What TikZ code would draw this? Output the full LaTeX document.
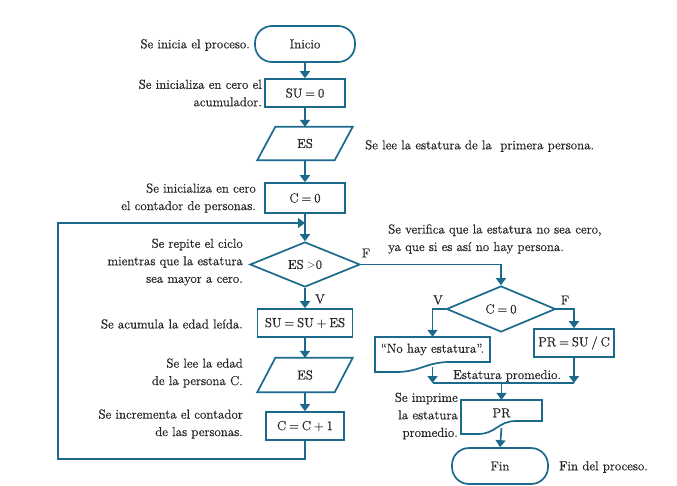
\documentclass[tikz,border=0pt]{standalone}
\usepackage{fontspec}
\setmainfont{Latin Modern Roman}[FakeBold=0.6]
\usetikzlibrary{shapes.geometric,arrows.meta}
\definecolor{fc}{HTML}{1B6A8C}
\definecolor{tc}{HTML}{262626}
\newcommand\tsp{\hspace{0.22em}}
\begin{document}
\begin{tikzpicture}[x=1pt,y=-1pt,
  every node/.style={text=tc,font=\fontsize{13}{17.5}\selectfont},
  ln/.style={draw=fc,line width=1.7pt},
  flow/.style={ln,-{Triangle[width=10pt,length=7pt]}},
  box/.style={ln,rectangle,inner sep=0pt,minimum width=#1,minimum height=28pt},
  term/.style={ln,rectangle,rounded corners=17pt,inner sep=0pt,minimum width=#1,minimum height=36pt},
  dia/.style={ln,diamond,inner sep=0pt},
  ghost/.style={inner sep=0pt,minimum width=#1,minimum height=33pt},
  noteL/.style={inner sep=0pt,align=right,anchor=east},
  noteR/.style={inner sep=0pt,align=left,anchor=west},
  lab/.style={inner sep=0pt}
]
\useasboundingbox (0,0) rectangle (677,485);

% main column
\node[term=100pt] (ini) at (305,44) {Inicio};
\node[box=80pt] (su0) at (305,93) {SU\tsp=\tsp0};
\node[ghost=77pt] (es1) at (305,143.5) {ES};
\draw[ln] ([xshift=9pt]es1.north west) -- ([xshift=9pt]es1.north east) -- ([xshift=-9pt]es1.south east) -- ([xshift=-9pt]es1.south west) -- cycle;
\node[box=80pt,minimum height=30pt] (c0) at (305,198) {C\tsp=\tsp0};
\node[dia,minimum width=110pt,minimum height=45pt] (d1) at (305,264.5) {ES\tsp$>$0};
\node[box=95pt] (suse) at (305,323) {SU\tsp=\tsp SU\tsp+\tsp ES};
\node[ghost=77pt,minimum height=34pt] (es2) at (305,375) {ES};
\draw[ln] ([xshift=9pt]es2.north west) -- ([xshift=9pt]es2.north east) -- ([xshift=-9pt]es2.south east) -- ([xshift=-9pt]es2.south west) -- cycle;
\node[box=78pt] (c1) at (305,426) {C\tsp=\tsp C\tsp+\tsp1};

% right branch
\node[dia,minimum width=109pt,minimum height=46pt] (d2) at (501,309) {C\tsp=\tsp0};
\node[ghost=115pt,minimum height=25pt] (nohay) at (432.5,349.5) {“No hay estatura”.};
\draw[ln] (375,337) -- (490,337) -- (490,362) -- (450,362) .. controls (426,362) and (420,372) .. (396,372) -- (375,372) -- cycle;
\node[box=80pt] (pr) at (574,343) {PR\tsp=\tsp SU\tsp/\tsp C};
\node[ghost=81pt,minimum height=26pt] (prd) at (501.5,413) {PR};
\draw[ln] (461,400) -- (542,400) -- (542,421) -- (516,421) .. controls (498,421) and (496,434) .. (478,434) -- (461,434) -- cycle;
\node[term=96pt] (fin) at (500,466) {Fin};

\coordinate (lb) at (58,459);
\coordinate (lt) at (58,223);
\coordinate (lin) at (305,223);
\coordinate (nohayb) at (432.5,367);
\coordinate (ml) at (432.5,383);
\coordinate (mr) at (574,383);
\coordinate (mm) at (501.5,383);
\coordinate (prdb) at (501.5,428);

% connectors
\draw[flow] (ini.south) -- (su0.north);
\draw[flow] (su0.south) -- (es1.north);
\draw[flow] (es1.south) -- (c0.north);
\draw[flow] (c0.south) -- (d1.north);
\draw[flow] (d1.south) -- (suse.north);
\draw[flow] (suse.south) -- (es2.north);
\draw[flow] (es2.south) -- (c1.north);
\draw[flow] (c1.south) |- (lb) -- (lt) -- (lin);
\draw[flow] (d1.east) -| (d2.north);
\draw[flow] (d2.west) -| (nohay.north);
\draw[flow] (d2.east) -| (pr.north);
\draw[flow] (nohayb) -- (ml);
\draw[flow] (pr.south) -- (mr);
\draw[ln] (ml) -- (mr);
\draw[flow] (mm) -- (prd.north);
\draw[flow] (prdb) -- (fin.north);

% branch labels
\node[lab] (v1) at (320,299) {V};
\node[lab] (f1) at (366,253) {F};
\node[lab] (v2) at (438,300) {V};
\node[lab] (f2) at (565,300) {F};
\node[lab,anchor=base west] (ep) at (453,379) {Estatura promedio.};

% annotations
\node[noteL] (n1) at (250,45) {Se inicia el proceso.};
\node[noteL] (n2) at (262,93) {Se inicializa en cero el\\acumulador.};
\node[noteR] (n3) at (365,146) {Se lee la estatura de la\ \ primera persona.};
\node[noteL] (n4) at (256,198) {Se inicializa en cero\\el contador de personas.};
\node[noteL] (n5) at (243,262) {Se repite el ciclo\\mientras que la estatura\\sea mayor a cero.};
\node[noteR] (n6) at (388,239) {Se verifica que la estatura no sea cero,\\ya que si es así no hay persona.};
\node[noteL] (n7) at (243,324) {Se acumula la edad leída.};
\node[noteL] (n8) at (243,373) {Se lee la edad\\de la persona C.};
\node[noteL] (n9) at (243,424) {Se incrementa el contador\\de las personas.};
\node[noteL] (n10) at (458,416) {Se imprime\\la estatura\\promedio.};
\node[noteR] (n11) at (559,467) {Fin del proceso.};
\end{tikzpicture}
\end{document}
